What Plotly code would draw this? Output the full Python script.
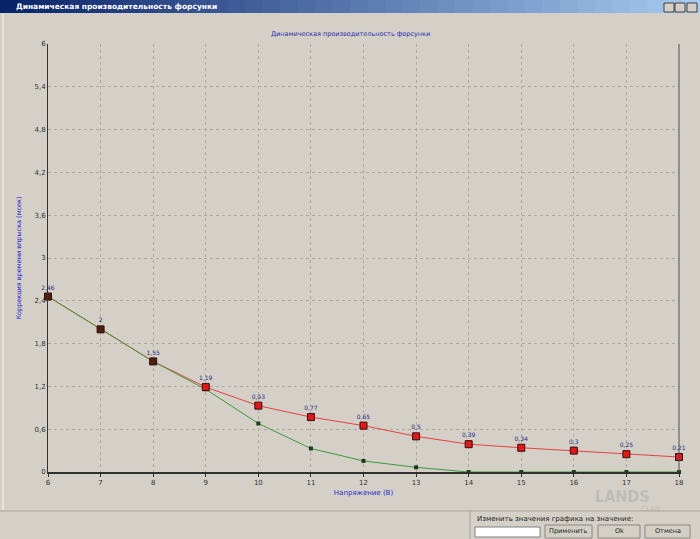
import plotly.graph_objects as go

# ---- data ----
voltage = [6, 7, 8, 9, 10, 11, 12, 13, 14, 15, 16, 17, 18]
corr_new = [2.46, 2.0, 1.55, 1.19, 0.93, 0.77, 0.65, 0.5, 0.39, 0.34, 0.3, 0.25, 0.21]
corr_base = [2.46, 2.0, 1.55, 1.16, 0.68, 0.33, 0.155, 0.065, 0.0, 0.0, 0.0, 0.0, 0.0]
point_labels = ["2,46", "2", "1,55", "1,19", "0,93", "0,77", "0,65", "0,5", "0,39", "0,34", "0,3", "0,25", "0,21"]
y_tick_vals = [0, 0.6, 1.2, 1.8, 2.4, 3.0, 3.6, 4.2, 4.8, 5.4, 6.0]
y_tick_text = ["0", "0,6", "1,2", "1,8", "2,4", "3", "3,6", "4,2", "4,8", "5,4", "6"]
x_tick_vals = voltage

W, H = 700, 539
BG = "#D4D0C8"
L, R, T, B = 48, 21, 44, 67

fig = go.Figure()

# red line (below green)
fig.add_trace(go.Scatter(
    x=voltage, y=corr_new, mode="lines",
    line=dict(color="#E84040", width=1),
    cliponaxis=False, hoverinfo="skip", showlegend=False))

fig.add_trace(go.Scatter(
    x=voltage, y=corr_base, mode="lines+markers",
    line=dict(color="#3C9A3C", width=1),
    marker=dict(symbol="square", size=4, color="#1E3A1E"),
    cliponaxis=False, hoverinfo="skip", showlegend=False))

new_colors = ["#4A1E10" if i < 3 else "#E01818" for i in range(len(voltage))]
fig.add_trace(go.Scatter(
    x=voltage, y=corr_new, mode="markers+text",
    marker=dict(symbol="square", size=7, color=new_colors,
                line=dict(color="#3A0A0A", width=1)),
    text=point_labels, textposition="top center",
    textfont=dict(family="DejaVu Sans", size=6, color="#2A2A80"),
    cliponaxis=False, hoverinfo="skip", showlegend=False))


def px_x(x):
    return (x - L) / (W - L - R)


def px_y(y):
    return (H - B - y) / (H - T - B)


shapes = []
# window title bar gradient (Windows classic style)
n = 40
c0 = (10, 36, 106)
c1 = (166, 202, 240)
for i in range(n):
    f = i / (n - 1)
    col = "rgb(%d,%d,%d)" % tuple(int(c0[k] + (c1[k] - c0[k]) * f) for k in range(3))
    shapes.append(dict(type="rect", xref="paper", yref="paper",
                       x0=px_x(W * i / n), x1=px_x(W * (i + 1) / n + 0.5),
                       y0=px_y(13), y1=px_y(0),
                       fillcolor=col, line=dict(width=0), layer="below"))

# window caption buttons
for bx in [664, 675, 687]:
    shapes.append(dict(type="rect", xref="paper", yref="paper",
                       x0=px_x(bx), x1=px_x(bx + 10), y0=px_y(12), y1=px_y(3),
                       fillcolor=BG, line=dict(color="#404040", width=1)))
# left frame line
shapes.append(dict(type="line", xref="paper", yref="paper",
                   x0=px_x(3), x1=px_x(3), y0=px_y(511), y1=px_y(13),
                   line=dict(color="#F4F2EE", width=1)))
# bottom separator
shapes.append(dict(type="line", xref="paper", yref="paper",
                   x0=px_x(0), x1=px_x(700), y0=px_y(511), y1=px_y(511),
                   line=dict(color="#A8A49C", width=1)))
shapes.append(dict(type="line", xref="paper", yref="paper",
                   x0=px_x(470), x1=px_x(470), y0=px_y(539), y1=px_y(511),
                   line=dict(color="#A8A49C", width=1)))
# input box
shapes.append(dict(type="rect", xref="paper", yref="paper",
                   x0=px_x(475), x1=px_x(540), y0=px_y(537), y1=px_y(527),
                   fillcolor="white", line=dict(color="#808080", width=1)))
# buttons
for bx0, bx1 in [(545, 592), (598, 640), (645, 690)]:
    shapes.append(dict(type="rect", xref="paper", yref="paper",
                       x0=px_x(bx0), x1=px_x(bx1), y0=px_y(538), y1=px_y(525),
                       fillcolor=BG, line=dict(color="#8A867E", width=1)))
# plot frame: right edge
shapes.append(dict(type="line", xref="paper", yref="paper",
                   x0=1, x1=1, y0=0, y1=1, line=dict(color="#505050", width=1)))

annotations = [
    dict(text="<b>Динамическая производительность форсунки</b>", xref="paper", yref="paper",
         x=px_x(14), y=px_y(6.5), xanchor="left", yanchor="middle", showarrow=False,
         font=dict(family="DejaVu Sans", size=7.5, color="white")),
    dict(text="Динамическая производительность форсунки", xref="paper", yref="paper",
         x=px_x(350), y=px_y(34), xanchor="center", yanchor="middle", showarrow=False,
         font=dict(family="DejaVu Sans", size=6.5, color="#2A2AB0")),
    dict(text="Изменить значения графика на значение:", xref="paper", yref="paper",
         x=px_x(475), y=px_y(519), xanchor="left", yanchor="middle", showarrow=False,
         font=dict(family="DejaVu Sans", size=7, color="#202020")),
    dict(text="Применить", xref="paper", yref="paper",
         x=px_x(568), y=px_y(531), xanchor="center", yanchor="middle", showarrow=False,
         font=dict(family="DejaVu Sans", size=6.5, color="#202020")),
    dict(text="Ok", xref="paper", yref="paper",
         x=px_x(619), y=px_y(531), xanchor="center", yanchor="middle", showarrow=False,
         font=dict(family="DejaVu Sans", size=6.5, color="#202020")),
    dict(text="Отмена", xref="paper", yref="paper",
         x=px_x(668), y=px_y(531), xanchor="center", yanchor="middle", showarrow=False,
         font=dict(family="DejaVu Sans", size=6.5, color="#202020")),
    # watermark
    dict(text="<b>LANDS</b>", xref="paper", yref="paper",
         x=px_x(622), y=px_y(496), xanchor="center", yanchor="middle", showarrow=False,
         font=dict(family="DejaVu Sans Condensed", size=16, color="rgba(150,150,150,0.35)")),
    dict(text="CLAN", xref="paper", yref="paper",
         x=px_x(650), y=px_y(509), xanchor="center", yanchor="middle", showarrow=False,
         font=dict(family="DejaVu Sans", size=7, color="rgba(150,150,150,0.4)")),
]

fig.update_layout(
    width=W, height=H,
    margin=dict(l=L, r=R, t=T, b=B),
    paper_bgcolor=BG, plot_bgcolor=BG,
    shapes=shapes, annotations=annotations,
    xaxis=dict(range=[6, 18], tickmode="array", tickvals=x_tick_vals,
               ticktext=[str(v) for v in x_tick_vals],
               showgrid=True, gridcolor="#ACAAA4", griddash="dot", gridwidth=1,
               showline=True, linecolor="#303030", linewidth=2, zeroline=False,
               ticks="outside", ticklen=3, tickcolor="#303030",
               tickfont=dict(family="DejaVu Sans", size=7, color="#303030"),
               title=dict(text="Напряжение (В)", standoff=4,
                          font=dict(family="DejaVu Sans", size=7, color="#2A2AD0"))),
    yaxis=dict(range=[0, 6], tickmode="array", tickvals=y_tick_vals, ticktext=y_tick_text,
               showgrid=True, gridcolor="#ACAAA4", griddash="dot", gridwidth=1,
               showline=True, linecolor="#303030", linewidth=1, zeroline=False,
               ticks="", ticklen=2,
               tickfont=dict(family="DejaVu Sans", size=7, color="#303030"),
               title=dict(text="Коррекция времени впрыска (мсек)", standoff=12,
                          font=dict(family="DejaVu Sans", size=6.5, color="#2A2AD0"))),
)

fig.write_html("out.html", config={"displayModeBar": False},
               post_script="document.body.style.margin='0';")
